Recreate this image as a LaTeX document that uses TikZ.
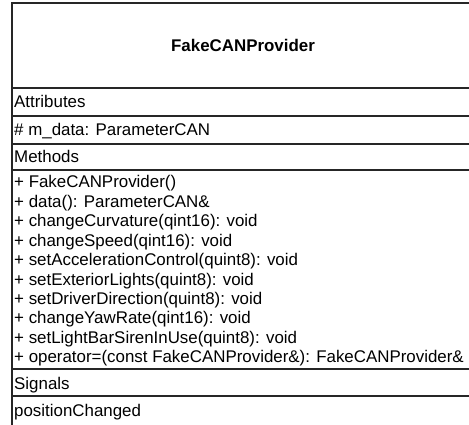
\documentclass[tikz,border=0pt]{standalone}
\usepackage{fontspec}
\setmainfont{Liberation Sans}
\begin{document}
\begin{tikzpicture}[x=1pt,y=-1pt,
  txt/.style={anchor=base west,inner sep=0pt,font=\fontsize{16.9}{19}\selectfont},
  ttl/.style={anchor=base,inner sep=0pt,font=\fontsize{16.9}{19}\selectfont\bfseries},
  sep/.style={line width=1.2pt,draw=black!85}]
\useasboundingbox (0,0) rectangle (469,425);
\clip (0,0) rectangle (469,425);
\fill[white] (0,0) rectangle (469,425);
% class box (extends beyond the visible area)
\draw[sep] (12,440) -- (12,3) -- (480,3);
\foreach \yy in {88,116,144,170,369,396}
  \draw[sep] (12,\yy) -- (480,\yy);
% title
\node[ttl] (title) at (243,51.5) {FakeCANProvider};
% compartments
\node[txt] (attr) at (14,108) {Attributes};
\node[txt] (mdata) at (14,136) {\# m\_data: ParameterCAN};
\node[txt] (meth) at (14,163) {Methods};
\node[txt] (m1) at (14,188) {+ FakeCANProvider()};
\node[txt] (m2) at (14,207.4) {+ data(): ParameterCAN\&};
\node[txt] (m3) at (14,226.8) {+ changeCurvature(qint16): void};
\node[txt] (m4) at (14,246.2) {+ changeSpeed(qint16): void};
\node[txt] (m5) at (14,265.6) {+ setAccelerationControl(quint8): void};
\node[txt] (m6) at (14,285) {+ setExteriorLights(quint8): void};
\node[txt] (m7) at (14,304.4) {+ setDriverDirection(quint8): void};
\node[txt] (m8) at (14,323.8) {+ changeYawRate(qint16): void};
\node[txt] (m9) at (14,343.2) {+ setLightBarSirenInUse(quint8): void};
\node[txt] (m10) at (14,362.6) {+ operator=(const FakeCANProvider\&): FakeCANProvider\&};
\node[txt] (sig) at (14,389) {Signals};
\node[txt] (pos) at (14,416) {positionChanged};
\end{tikzpicture}
\end{document}
